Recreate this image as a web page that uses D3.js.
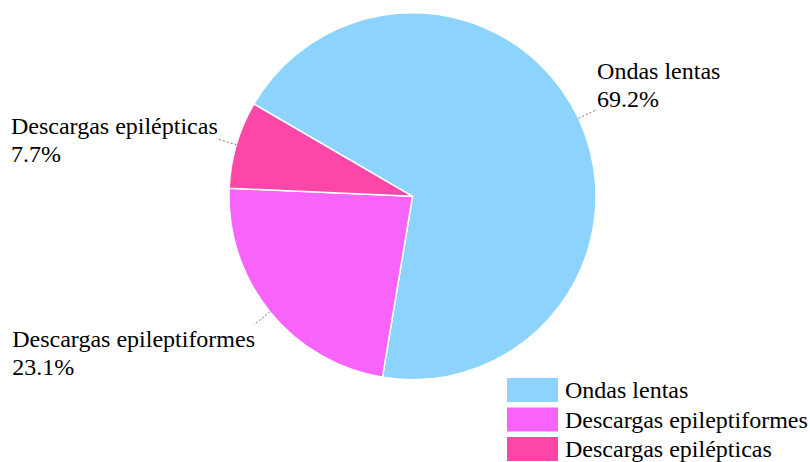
<!DOCTYPE html>
<html>
<head>
<meta charset="utf-8">
<script src="https://cdn.jsdelivr.net/npm/d3@7"></script>
<style>
  html, body { margin: 0; padding: 0; background: #ffffff; }
</style>
</head>
<body>
<svg id="chart" width="810" height="462"></svg>
<script>
// Categories and counts for each slice
const categories = ["Ondas lentas", "Descargas epileptiformes", "Descargas epilépticas"];
const counts = [9, 3, 1];
const percentLabels = ["69.2%", "23.1%", "7.7%"];
const colors = ["#8cd4fe", "#f864fa", "#fc46a8"];

// Layout settings
const cx = 412.5, cy = 196.3, radius = 183.5;
const leaderOuter = 204;
const startDeg = -59.8;
const fontSize = 24;
const fontFamily = "'Liberation Serif', 'Times New Roman', serif";
// Label placement relative to the end of each leader line
const labelLayout = [
  { anchor: "start", dx: 0,  dy: -31 },
  { anchor: "end",   dx: 1,  dy: 22 },
  { anchor: "end",   dx: 1,  dy: -5 }
];

const svg = d3.select("#chart")
  .style("font-family", fontFamily);

const data = categories.map((c, i) => ({ name: c, value: counts[i], pct: percentLabels[i], color: colors[i], layout: labelLayout[i] }));

const start = startDeg * Math.PI / 180;
const pie = d3.pie()
  .value(d => d.value)
  .sort(null)
  .startAngle(start)
  .endAngle(start + 2 * Math.PI);

const arcs = pie(data);
const arc = d3.arc().innerRadius(0).outerRadius(radius);

const g = svg.append("g").attr("transform", `translate(${cx},${cy})`);

g.selectAll("path.slice")
  .data(arcs)
  .join("path")
  .attr("class", "slice")
  .attr("d", arc)
  .attr("fill", d => d.data.color)
  .attr("stroke", "#ffffff")
  .attr("stroke-width", 1.5)
  .attr("stroke-linejoin", "round");

// Leader lines and labels
const pointAt = (a, r) => [r * Math.sin(a), -r * Math.cos(a)];

arcs.forEach(d => {
  const mid = (d.startAngle + d.endAngle) / 2;
  const p0 = pointAt(mid, radius);
  const p1 = pointAt(mid, leaderOuter);
  g.append("line")
    .attr("x1", p0[0]).attr("y1", p0[1])
    .attr("x2", p1[0]).attr("y2", p1[1])
    .attr("stroke", "#777777")
    .attr("stroke-width", 1)
    .attr("stroke-dasharray", "2,2");

  const L = d.data.layout;
  const t = g.append("text")
    .attr("x", p1[0] + L.dx)
    .attr("y", p1[1] + L.dy)
    .attr("text-anchor", "start")
    .attr("font-family", fontFamily)
    .attr("font-size", fontSize)
    .attr("fill", "#000");
  // Left-side labels are aligned so their widest line ends at the leader
  t.append("tspan").attr("x", p1[0] + L.dx).text(d.data.name);
  t.append("tspan").attr("x", p1[0] + L.dx).attr("dy", 28.5).text(d.data.pct);
  if (L.anchor === "end") {
    const w = t.node().getBBox().width;
    t.selectAll("tspan").attr("x", p1[0] + L.dx - w);
  }
});

// Legend
const legend = svg.append("g").attr("transform", "translate(507,378)");
const rowStep = 29.5;
const rows = legend.selectAll("g.row")
  .data(data)
  .join("g")
  .attr("class", "row")
  .attr("transform", (d, i) => `translate(0,${i * rowStep})`);

rows.append("rect")
  .attr("width", 51)
  .attr("height", 24)
  .attr("fill", d => d.color);

rows.append("text")
  .attr("x", 58)
  .attr("y", 20)
  .attr("font-family", fontFamily)
  .attr("font-size", fontSize)
  .attr("fill", "#000")
  .text(d => d.name);
</script>
</body>
</html>
